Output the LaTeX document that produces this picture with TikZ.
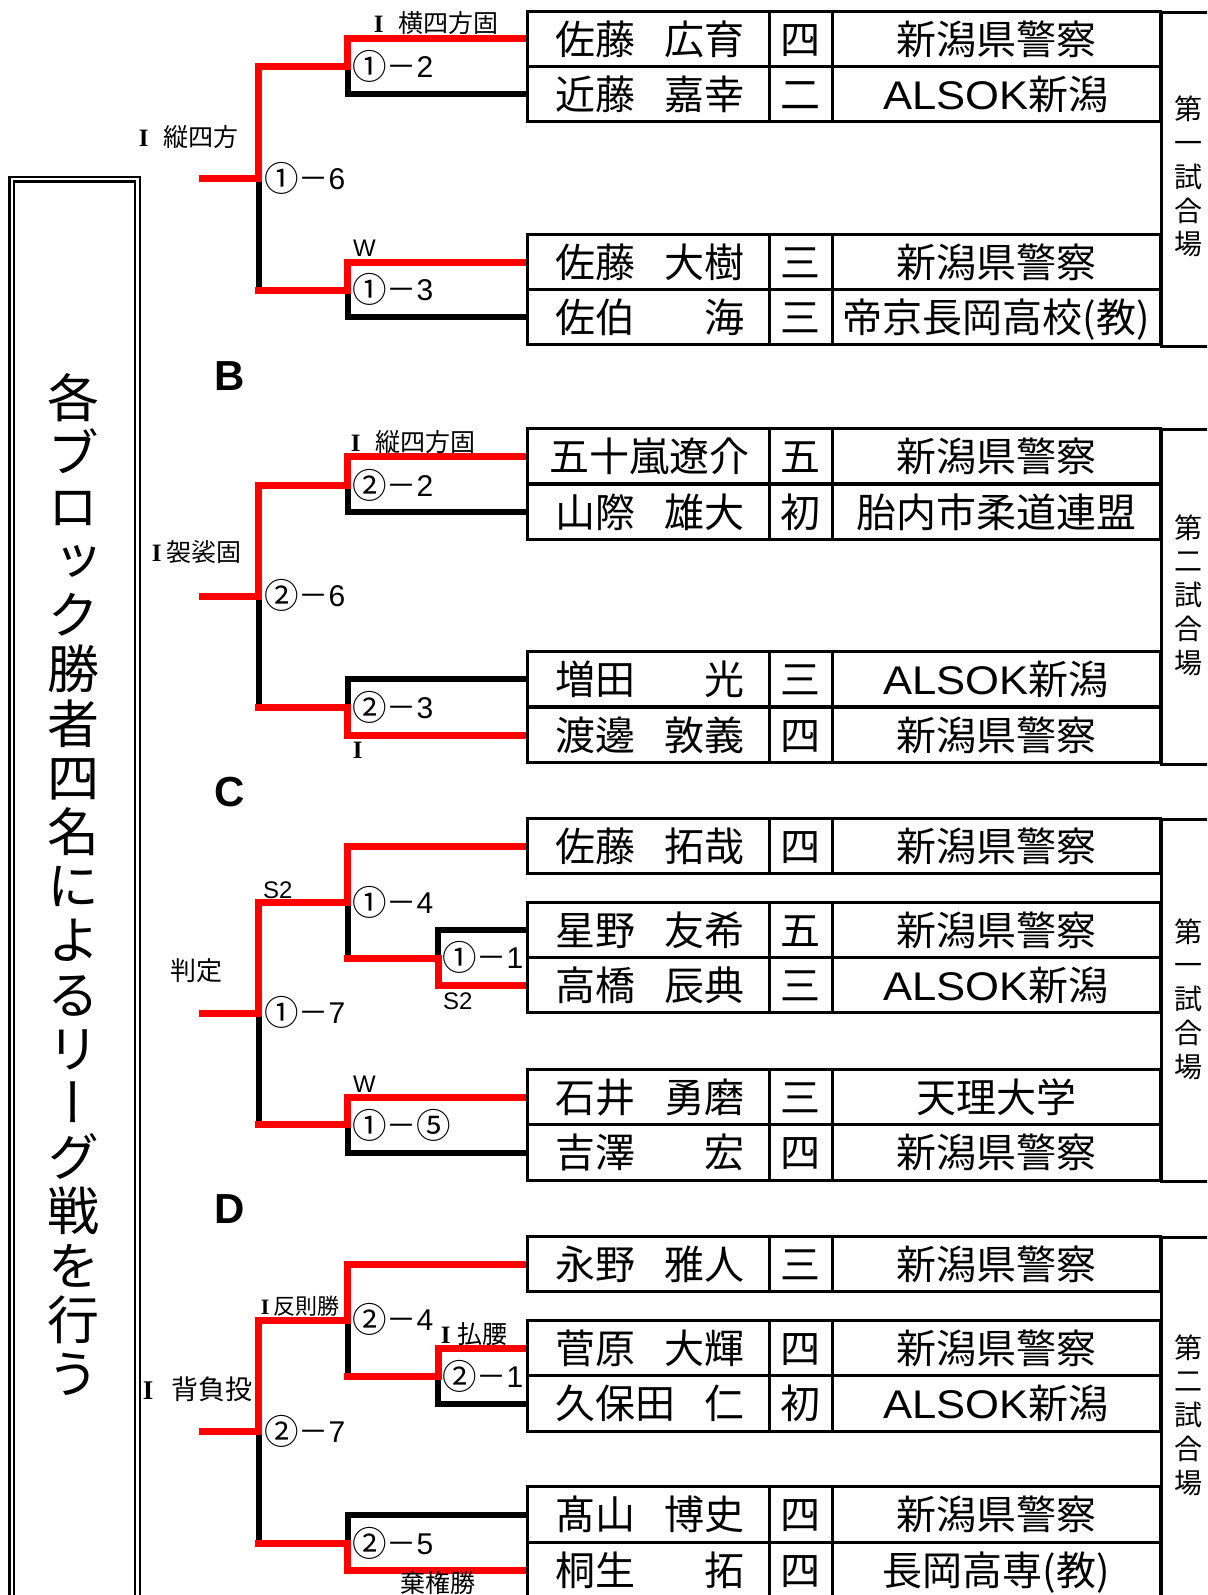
\documentclass[tikz,border=0pt]{standalone}
\usepackage{fontspec}
\setmainfont{Noto Sans CJK JP}
\newfontfamily\vjp[RawFeature=+vert]{Noto Sans CJK JP}
\newfontfamily\lat{Liberation Sans}
\newfontfamily\latw[FakeStretch=1.09]{Liberation Sans}
\newfontfamily\rmI{Liberation Serif}
\newcommand\RI{{\rmI\bfseries I}}
\newcommand\cnum[1]{\raisebox{-1.7pt}{\scalebox{1.15}{#1}}}
\tikzset{
 cell/.style={draw, line width=3pt, inner sep=0, minimum height=55.5pt},
 namecell/.style={cell, minimum width=242pt},
 gradecell/.style={cell, minimum width=63pt},
 orgcell/.style={cell, minimum width=328pt},
 tx/.style={font=\fontsize{40}{48}\selectfont, inner sep=0, anchor=base},
 win/.style={draw=red, line width=7pt, line join=miter},
 lose/.style={draw=black, line width=6pt, line join=miter},
 score/.style={font=\fontsize{30}{36}\selectfont, inner sep=0, anchor=base west},
 lab/.style={font=\fontsize{25}{28}\selectfont, inner sep=0, anchor=base west},
 latlab/.style={font=\lat\fontsize{24}{28}\selectfont, inner sep=0, anchor=base west},
 blk/.style={font=\lat\bfseries\fontsize{42}{48}\selectfont, inner sep=0, anchor=base},
 vt/.style={font=\fontsize{28}{32}\selectfont, inner sep=0, anchor=base},
 ttl/.style={font=\vjp\fontsize{52}{56}\selectfont, inner sep=0, anchor=base},
 vbox/.style={draw, line width=3pt, inner sep=0, anchor=north west, minimum width=80pt},
}
\newcommand\plrow[6]{%
  \node[namecell] (#1) at (648,#2) {};
  \node[gradecell] (#1g) at (800.5,#2) {};
  \node[orgcell] (#1o) at (996,#2) {};
  \node[tx,anchor=base west] (#1f) at (555,#2+15.2) {#3};
  \node[tx,anchor=base east] (#1n) at (745,#2+15.2) {#4};
  \node[tx] (#1r) at (800.5,#2+15.2) {#5};
  \node[tx] (#1t) at (996,#2+15.2) {#6};}
\newcommand\vtxt[3]{%
  \node[vt] (#1a) at (1188,#2-67.6+10.6) {第};
  \node[vt] (#1b) at (1188,#2-33.8+10.6) {#3};
  \node[vt] (#1c) at (1188,#2+10.6) {試};
  \node[vt] (#1d) at (1188,#2+33.8+10.6) {合};
  \node[vt] (#1e) at (1188,#2+67.6+10.6) {場};}
\newcommand\AL{{\latw ALSOK}新潟}
\begin{document}
\begin{tikzpicture}[x=1pt,y=-1pt]
\useasboundingbox (0,0) rectangle (1207,1595);
\clip (0,0) rectangle (1207,1595);
% left title box
\node[draw, line width=2.5pt, inner sep=0, minimum width=130.25pt, minimum height=1600pt, anchor=north west] (boxo) at (8.25,175.5) {};
\node[draw, line width=2.5pt, inner sep=0, minimum width=120.75pt, minimum height=1600pt, anchor=north west] (boxi) at (12.75,180.3) {};
\foreach \c [count=\i] in {各,ブ,ロ,ッ,ク,勝,者,四,名,に,よ,る,リ,ー,グ,戦,を,行,う}
  \node[ttl] (t\i) at (73,398+\i*54.2-54.2+19.8) {\c};
% right columns
\node[vbox, minimum height=333.5pt] (va) at (1160,11.5) {};
\node[vbox, minimum height=335pt] (vb) at (1160,428) {};
\node[vbox, minimum height=362pt] (vc) at (1160,818) {};
\node[vbox, minimum height=400pt] (vd) at (1160,1236) {};
\vtxt{va}{176.7}{一}
\vtxt{vb}{595}{二}
\vtxt{vc}{999}{一}
\vtxt{vd}{1415}{二}
% tables
\plrow{a1}{39}{佐藤}{広育}{四}{新潟県警察}
\plrow{a2}{94}{近藤}{嘉幸}{二}{\AL}
\plrow{a3}{262}{佐藤}{大樹}{三}{新潟県警察}
\plrow{a4}{317}{佐伯}{海}{三}{帝京長岡高校(教)}
\plrow{b1}{456}{\hspace{-6pt}五十嵐遼介}{}{五}{新潟県警察}
\plrow{b2}{512}{山際}{雄大}{初}{胎内市柔道連盟}
\plrow{b3}{679}{増田}{光}{三}{\AL}
\plrow{b4}{735}{渡邊}{敦義}{四}{新潟県警察}
\plrow{c1}{846}{佐藤}{拓哉}{四}{新潟県警察}
\plrow{c2}{930}{星野}{友希}{五}{新潟県警察}
\plrow{c3}{985}{高橋}{辰典}{三}{\AL}
\plrow{c4}{1097}{石井}{勇磨}{三}{天理大学}
\plrow{c5}{1152.5}{吉澤}{宏}{四}{新潟県警察}
\plrow{d1}{1264}{永野}{雅人}{三}{新潟県警察}
\plrow{d2}{1348}{菅原}{大輝}{四}{新潟県警察}
\plrow{d3}{1403.5}{久保田}{仁}{初}{\AL}
\plrow{d4}{1514.5}{髙山}{博史}{四}{新潟県警察}
\plrow{d5}{1570}{桐生}{拓}{四}{長岡高専(教)}
% bracket junctions
\coordinate (A1) at (347.5,67);   \coordinate (A2) at (347.5,290);
\coordinate (A0) at (258.5,178);  \coordinate (Ae) at (199,178);
\coordinate (B1) at (347.5,485);  \coordinate (B2) at (347.5,707);
\coordinate (B0) at (258.5,596);  \coordinate (Be) at (199,596);
\coordinate (C1) at (347.5,902);  \coordinate (C3) at (438,958);
\coordinate (C2) at (347.5,1124.5); \coordinate (C0) at (258.5,1013.5);
\coordinate (Ce) at (199,1013.5);
\coordinate (D1) at (347.5,1320); \coordinate (D3) at (438,1376);
\coordinate (D2) at (347.5,1543); \coordinate (D0) at (258.5,1431.5);
\coordinate (De) at (199,1431.5);
% losing lines (black)
\draw[lose] (a2.west) -| (A1);
\draw[lose] (A0) -- (A0 |- A2);
\draw[lose] (a4.west) -| (A2);
\draw[lose] (b2.west) -| (B1);
\draw[lose] (B0) -- (B0 |- B2);
\draw[lose] (b3.west) -| (B2);
\draw[lose] (C1) -- (C1 |- C3);
\draw[lose] (c2.west) -| (C3);
\draw[lose] (C0) -- (C0 |- C2);
\draw[lose] (c5.west) -| (C2);
\draw[lose] (D1) -- (D1 |- D3);
\draw[lose] (d3.west) -| (D3);
\draw[lose] (D0) -- (D0 |- D2);
\draw[lose] (d4.west) -| (D2);
% winning lines (red)
\draw[win] (a1.west) -| (A1) -| (A0) -- (Ae);
\draw[win, shorten >=-3.5pt] (a3.west) -| (A2) -- (A0 |- A2);
\draw[win] (b1.west) -| (B1) -| (B0) -- (Be);
\draw[win, shorten >=-3.5pt] (b4.west) -| (B2) -- (B0 |- B2);
\draw[win] (c1.west) -| (C1) -| (C0) -- (Ce);
\draw[win, shorten >=-3.5pt] (c3.west) -| (C3) -- (C1 |- C3);
\draw[win, shorten >=-3.5pt] (c4.west) -| (C2) -- (C0 |- C2);
\draw[win] (d1.west) -| (D1) -| (D0) -- (De);
\draw[win, shorten >=-3.5pt] (d2.west) -| (D3) -- (D1 |- D3);
\draw[win, shorten >=-3.5pt] (d5.west) -| (D2) -- (D0 |- D2);
% block A labels
\node[lab] (lA0) at (138.7,137+9) {\RI\hspace{15pt}縦四方};
\node[lab] (lA1) at (373.7,24+9) {\RI\hspace{15pt}横四方固};
\node[score] (sA0) at (264,178+11.4) {\cnum{①}－{\lat 6}};
\node[score] (sA1) at (352,66+11.4) {\cnum{①}－{\lat 2}};
\node[latlab] (lA2) at (353,247+9) {W};
\node[score] (sA2) at (352,289+11.4) {\cnum{①}－{\lat 3}};
% block B
\node[blk] (bB) at (230,375+15) {B};
\node[lab] (lB1) at (350.7,442+9) {\RI\hspace{15pt}縦四方固};
\node[score] (sB1) at (352,485+11.4) {\cnum{②}－{\lat 2}};
\node[lab] (lB0) at (151.7,552+9) {\RI\hspace{5pt}袈裟固};
\node[score] (sB0) at (264,595+11.4) {\cnum{②}－{\lat 6}};
\node[score] (sB2) at (352,707+11.4) {\cnum{②}－{\lat 3}};
\node[lab] (lB2) at (352.7,749+9) {\RI};
% block C
\node[blk] (bC) at (230,791+15) {C};
\node[latlab] (lC1) at (263,889+9) {S2};
\node[score] (sC1) at (352,902+11.4) {\cnum{①}－{\lat 4}};
\node[score] (sC3) at (442,957+11.4) {\cnum{①}－{\lat 1}};
\node[latlab] (lC3) at (443,1000+9) {S2};
\node[lab, font=\fontsize{26}{28}\selectfont] (lC0) at (170,971+9.5) {判定};
\node[score] (sC0) at (264,1012+11.4) {\cnum{①}－{\lat 7}};
\node[latlab] (lC2) at (353,1083+9) {W};
\node[score] (sC2) at (352,1125+11.4) {\cnum{①}－\cnum{⑤}};
% block D
\node[blk] (bD) at (230,1208+15) {D};
\node[lab, font=\fontsize{22}{26}\selectfont] (lD1) at (260.7,1306+8.2) {\RI\hspace{4pt}反則勝};
\node[score] (sD1) at (352,1319+11.4) {\cnum{②}－{\lat 4}};
\node[lab] (lD3) at (440.7,1334+9) {\RI\hspace{7pt}払腰};
\node[score] (sD3) at (442,1376+11.4) {\cnum{②}－{\lat 1}};
\node[lab, font=\fontsize{27}{30}\selectfont] (lD0) at (142.7,1389+10) {\RI\hspace{18pt}背負投};
\node[score] (sD0) at (264,1431+11.4) {\cnum{②}－{\lat 7}};
\node[score] (sD2) at (352,1543+11.4) {\cnum{②}－{\lat 5}};
\node[lab] (lD2) at (400,1583+9) {棄権勝};
\end{tikzpicture}
\end{document}
